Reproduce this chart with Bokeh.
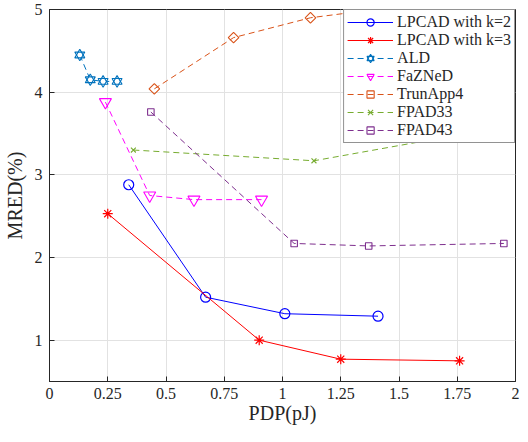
import math
from bokeh.plotting import figure
from bokeh.models import Range1d, FixedTicker, Legend, LegendItem
from bokeh.embed import file_html
from bokeh.resources import INLINE

# ---- data ----
k2_x = [0.34, 0.67, 1.01, 1.41]
k2_y = [2.88, 1.52, 1.32, 1.29]
k3_x = [0.25, 0.90, 1.25, 1.76]
k3_y = [2.53, 1.00, 0.77, 0.75]
ald_x = [0.13, 0.175, 0.23, 0.29]
ald_y = [4.45, 4.15, 4.13, 4.13]
faz_x = [0.24, 0.43, 0.62, 0.91]
faz_y = [3.88, 2.75, 2.70, 2.70]
trun_x = [0.45, 0.79, 1.12, 1.62]
trun_y = [4.04, 4.66, 4.90, 5.08]
fp33_x = [0.36, 1.135, 1.65]
fp33_y = [3.30, 3.17, 3.43]
fp43_x = [0.435, 1.05, 1.37, 1.95]
fp43_y = [3.76, 2.17, 2.14, 2.17]

x_ticks = [0, 0.25, 0.5, 0.75, 1, 1.25, 1.5, 1.75, 2]
x_tick_labels = ["0", "0.25", "0.5", "0.75", "1", "1.25", "1.5", "1.75", "2"]
y_ticks = [1, 2, 3, 4, 5]
x_label = "PDP(pJ)"
y_label = "MRED(%)"

FONT = "Liberation Serif"
DARK = "#262626"
DASH = "6 4"

p = figure(width=520, height=426, x_range=Range1d(0, 2), y_range=Range1d(0.5, 5),
           output_backend="svg", toolbar_location=None,
           min_border_left=38, min_border_right=5, min_border_top=9, min_border_bottom=10,
           x_axis_label=x_label, y_axis_label=y_label)
p.background_fill_color = "white"
p.border_fill_color = "white"
p.outline_line_color = DARK
p.outline_line_width = 1

p.xaxis.ticker = FixedTicker(ticks=x_ticks)
p.xaxis.major_label_overrides = {t: l for t, l in zip(x_ticks, x_tick_labels)}
p.yaxis.ticker = FixedTicker(ticks=y_ticks)
for ax in (p.xaxis, p.yaxis):
    ax.axis_line_color = DARK
    ax.major_tick_line_color = DARK
    ax.major_tick_in = 5
    ax.major_tick_out = 0
    ax.minor_tick_line_color = None
    ax.major_label_text_font = FONT
    ax.major_label_text_font_size = "16px"
    ax.major_label_text_font_style = "normal"
    ax.major_label_text_color = DARK
    ax.major_label_text_line_height = 1.0
    ax.axis_label_text_font = FONT
    ax.axis_label_text_font_size = "20px"
    ax.axis_label_text_font_style = "normal"
    ax.axis_label_text_color = DARK
    ax.axis_label_text_line_height = 1.0
p.xaxis.major_label_standoff = 6
p.xaxis.axis_label_standoff = 0
p.yaxis.major_label_standoff = 7
p.yaxis.axis_label_standoff = 6
p.grid.grid_line_color = "#e2e2e2"
p.grid.grid_line_width = 1

items = []

# LPCAD k=2
c = "#0000FF"
l1 = p.line(k2_x, k2_y, line_color=c, line_width=1)
m1 = p.scatter(k2_x, k2_y, marker="circle", size=10, fill_color=None, line_color=c, line_width=1.2)
items.append(LegendItem(label="LPCAD with k=2", renderers=[l1, m1]))

# LPCAD k=3
c = "#FF0000"
l2 = p.line(k3_x, k3_y, line_color=c, line_width=1)
m2 = p.scatter(k3_x, k3_y, marker="asterisk", size=10, line_color=c, line_width=1.2)
items.append(LegendItem(label="LPCAD with k=3", renderers=[l2, m2]))

# ALD (hexagram made of two triangles)
c = "#0072BD"
l3 = p.line(ald_x, ald_y, line_color=c, line_width=1, line_dash=DASH)
m3a = p.scatter(ald_x, ald_y, marker="triangle", size=10, fill_color="white", line_color=c, line_width=1.1)
m3b = p.scatter(ald_x, ald_y, marker="inverted_triangle", size=10, fill_color=None, line_color=c, line_width=1.1)
items.append(LegendItem(label="ALD", renderers=[l3, m3a, m3b]))

# FaZNeD
c = "#FF00FF"
l4 = p.line(faz_x, faz_y, line_color=c, line_width=1, line_dash=DASH)
m4 = p.scatter(faz_x, faz_y, marker="inverted_triangle", size=12, fill_color=None, line_color=c, line_width=1.1)
items.append(LegendItem(label="FaZNeD", renderers=[l4, m4]))

# TrunApp4
c = "#D95319"
l5 = p.line(trun_x, trun_y, line_color=c, line_width=1, line_dash=DASH)
m5 = p.scatter(trun_x, trun_y, marker="square", angle=math.pi / 4, size=7.5, fill_color=None, line_color=c, line_width=1.1)
items.append(LegendItem(label="TrunApp4", renderers=[l5, m5]))

# FPAD33
c = "#77AC30"
l6 = p.line(fp33_x, fp33_y, line_color=c, line_width=1, line_dash=DASH)
m6 = p.scatter(fp33_x, fp33_y, marker="x", size=7, line_color=c, line_width=1.1)
items.append(LegendItem(label="FPAD33", renderers=[l6, m6]))

# FPAD43
c = "#7E2F8E"
l7 = p.line(fp43_x, fp43_y, line_color=c, line_width=1, line_dash=DASH)
m7 = p.scatter(fp43_x, fp43_y, marker="square", size=6.5, fill_color=None, line_color=c, line_width=1.1)
items.append(LegendItem(label="FPAD43", renderers=[l7, m7]))

legend = Legend(items=items, location="top_right", margin=0, padding=3, spacing=0,
                label_text_font=FONT, label_text_font_style="normal",
                label_text_font_size="16px", label_text_color=DARK,
                label_height=18, glyph_height=18, glyph_width=46, label_standoff=4,
                border_line_color=DARK, border_line_width=1,
                background_fill_color="white", background_fill_alpha=1)
p.add_layout(legend)

open("out.html", "w").write(file_html(p, INLINE))
